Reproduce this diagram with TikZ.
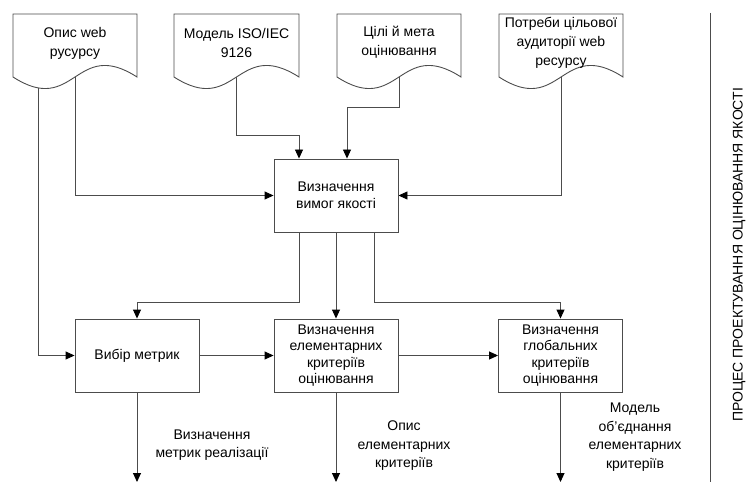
\documentclass[tikz,border=0pt]{standalone}
\usepackage{fontspec}
\setmainfont{Liberation Sans}
\usetikzlibrary{arrows.meta,backgrounds}
\newcommand\docshp[2]{%
  \path[ln,fill=white] (#1,14) -- (#2,14) -- (#2,77)
    .. controls ({#1+0.5*(#2-#1)},37) and ({#1+0.5*(#2-#1)},117) .. (#1,77) -- cycle;}
\begin{document}
\begin{tikzpicture}[x=1pt,y=-1pt,
  ln/.style={draw=black!70,line width=0.9pt},
  arr/.style={ln,-{Triangle[length=9pt,width=8pt,fill=black,color=black]}},
  box/.style={draw=black!70,line width=0.9pt,fill=white,minimum width=124pt,minimum height=73pt,
              align=center,font=\fontsize{14}{16.5}\selectfont,inner sep=0pt},
  doctext/.style={align=center,font=\fontsize{14}{19}\selectfont,inner sep=0pt},
  lbl/.style={align=center,font=\fontsize{14}{18.5}\selectfont,inner sep=0pt}]
\useasboundingbox (0,0) rectangle (747,492);
% document shapes
\docshp{13}{137}
\docshp{174}{299}
\docshp{337}{461}
\docshp{499}{623}
\node[doctext] (d1) at (75,43) {Опис web\\русурсу};
\node[doctext] (d2) at (236.5,43) {Модель ISO/IEC\\9126};
\node[doctext] (d3) at (399,42) {Цілі й мета\\оцінювання};
\node[doctext] (d4) at (561,43) {Потреби цільової\\аудиторії web\\ресурсу};
% process boxes
\node[box] (bq) at (336,195.5) {Визначення\\вимог якості};
\node[box] (bm) at (137,355.5) {Вибір метрик};
\node[box] (be) at (336,355.5) {Визначення\\елементарних\\критеріїв\\оцінювання};
\node[box] (bg) at (560.5,355.5) {Визначення\\глобальних\\критеріїв\\оцінювання};
% output labels
\node[lbl] (l1) at (212,445) {Визначення\\метрик реалізації};
\node[lbl] (l2) at (404,446) {Опис\\елементарних\\критеріїв};
\node[lbl] (l3) at (635,437) {Модель\\об’єднання\\елементарних\\критеріїв};
% side title
\node[rotate=90,font=\fontsize{14}{16}\selectfont,inner sep=0pt] (title) at (739,255)
  {ПРОЦЕС ПРОЕКТУВАННЯ ОЦІНЮВАННЯ ЯКОСТІ};
\coordinate (s1) at (710,13);
\coordinate (s2) at (710,482);
\draw[ln] (s1) -- (s2);
% helper coordinates
\coordinate (d1l) at (38,60);
\coordinate (y107) at (0,107);
\coordinate (y135) at (0,135);
\coordinate (y302) at (0,302);
\coordinate (y482) at (0,482);
\begin{scope}[on background layer]
  \draw[arr] (d1l) |- (bm.west);
  \draw[arr] (d1.south) |- (bq.west);
  \draw[arr] (d2.south) -- (d2.south |- y135) -| ([xshift=-37pt]bq.north);
  \draw[arr] (d3.south) -- (d3.south |- y107) -| ([xshift=11pt]bq.north);
  \draw[arr] (d4.south) |- (bq.east);
  \draw[arr] ([xshift=-37pt]bq.south) -- ([xshift=-37pt]bq.south |- y302) -| (bm.north);
  \draw[arr] (bq.south) -- (be.north);
  \draw[arr] ([xshift=38pt]bq.south) -- ([xshift=38pt]bq.south |- y302) -| (bg.north);
  \draw[arr] (bm.east) -- (be.west);
  \draw[arr] (be.east) -- (bg.west);
  \draw[arr] (bm.south) -- (bm.south |- y482);
  \draw[arr] (be.south) -- (be.south |- y482);
  \draw[arr] (bg.south) -- (bg.south |- y482);
\end{scope}
\end{tikzpicture}
\end{document}
